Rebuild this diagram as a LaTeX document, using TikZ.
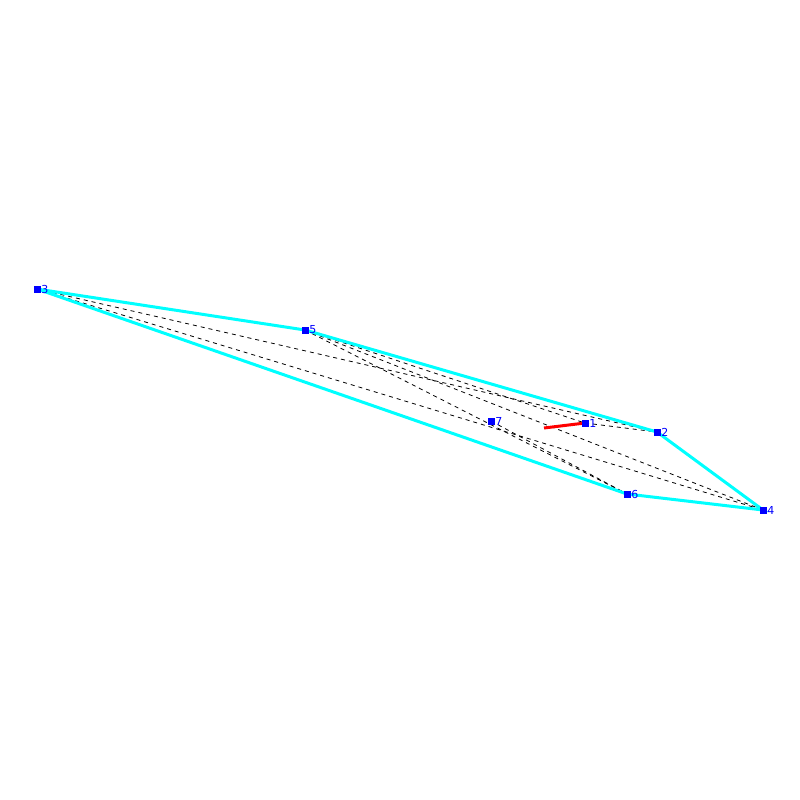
\documentclass[tikz,border=0pt]{standalone}
\usepackage{fontspec}
\setmainfont{DejaVu Sans}
\usepackage{tikz}
\usetikzlibrary{positioning, backgrounds}
\definecolor{ptblue}{RGB}{0,0,255}
\definecolor{hullcyan}{RGB}{0,255,255}
\definecolor{segred}{RGB}{255,0,0}
\tikzset{
  pt/.style={rectangle, fill=ptblue, minimum size=7pt, inner sep=0pt},
  ptlbl/.style={font=\fontsize{11}{11}\selectfont, text=ptblue, inner sep=0.5pt},
  hull/.style={hullcyan, line width=3pt},
  diag/.style={black, dash pattern=on 4pt off 4pt, line width=0.8pt},
  dirseg/.style={segred, line width=3pt}
}
\begin{document}
\begin{tikzpicture}[x=1pt, y=-1pt]
  \useasboundingbox (0,0) rectangle (800,800);
  % points
  \node[pt] (p1) at (585,423) {};
  \node[pt] (p2) at (657,432) {};
  \node[pt] (p3) at (37,289) {};
  \node[pt] (p4) at (763,510) {};
  \node[pt] (p5) at (305,330) {};
  \node[pt] (p6) at (627,494) {};
  \node[pt] (p7) at (491,421) {};
  \foreach \i in {1,...,7}
    \node[ptlbl, right=0pt of p\i] (l\i) {\i};
  \coordinate (tip) at (544,428);
  \begin{scope}[on background layer]
    % dashed segments
    \draw[diag] (p3.center) -- (p2.center);
    \draw[diag] (p5.center) -- (p1.center);
    \draw[diag] (p1.center) -- (p2.center);
    \draw[diag] (p3.center) -- (p4.center);
    \draw[diag] (p5.center) -- (p4.center);
    \draw[diag] (p5.center) -- (p6.center);
    \draw[diag] (p7.center) -- (p6.center);
    % hull
    \draw[hull] (p3.center) -- (p5.center) -- (p2.center) -- (p4.center) -- (p6.center) -- cycle;
    \draw[dirseg] (tip) -- (p1.center);
  \end{scope}
\end{tikzpicture}
\end{document}
